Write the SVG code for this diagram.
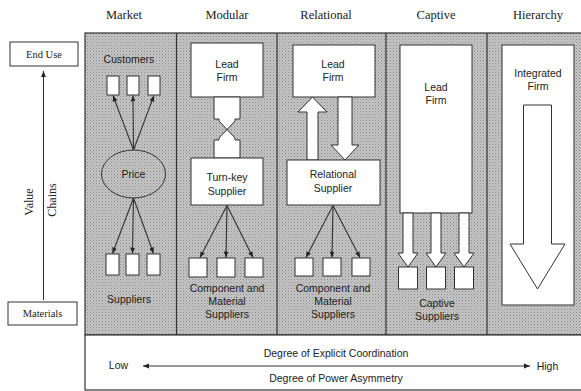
<svg xmlns="http://www.w3.org/2000/svg" width="581" height="391" viewBox="0 0 581 391">
<defs>
<style>
.serif{font-family:"Liberation Serif","Times New Roman",serif;fill:#222;text-anchor:middle}
.sans{font-family:"Liberation Sans",Arial,sans-serif;fill:#222;text-anchor:middle;font-size:10.5px}
.box{fill:#fff;stroke:#333;stroke-width:1}
.hollow{fill:#fff;stroke:#333;stroke-width:1;stroke-linejoin:miter}
.line{stroke:#333;stroke-width:1.1;fill:none}
.div{stroke:#333;stroke-width:1.2}
</style>
<marker id="ah" viewBox="0 0 10 10" refX="10" refY="5" markerWidth="6" markerHeight="6" orient="auto-start-reverse" markerUnits="userSpaceOnUse">
<path d="M0,1 L10,5 L0,9 z" fill="#222"/>
</marker>
<pattern id="dots" width="3" height="3" patternUnits="userSpaceOnUse">
<rect width="3" height="3" fill="#c6c6c6"/>
<rect width="1" height="1" fill="#888"/>
<rect x="1.5" y="1.5" width="1" height="1" fill="#9c9c9c"/>
</pattern>
</defs>
<rect width="581" height="391" fill="#fff"/>

<g id="headers" class="serif" font-size="12.5">
<text x="124" y="19">Market</text>
<text x="227" y="19">Modular</text>
<text x="326" y="19">Relational</text>
<text x="436" y="19">Captive</text>
<text x="538" y="19">Hierarchy</text>
</g>

<g id="panel">
<rect x="85" y="33" width="498" height="302" fill="url(#dots)" stroke="#333" stroke-width="1.2"/>
<line class="div" x1="176.5" y1="33" x2="176.5" y2="335"/>
<line class="div" x1="277" y1="33" x2="277" y2="335"/>
<line class="div" x1="386" y1="33" x2="386" y2="335"/>
<line class="div" x1="487" y1="33" x2="487" y2="335"/>
<rect x="85" y="335" width="498" height="55" fill="#fff" stroke="#333" stroke-width="1.2"/>
</g>

<g id="end-use">
<rect class="box" x="10" y="42" width="68" height="24"/>
<text class="serif" x="44" y="58" font-size="10.5">End Use</text>
</g>
<g id="materials">
<rect class="box" x="8" y="302" width="69" height="23"/>
<text class="serif" x="42.5" y="317" font-size="10.5">Materials</text>
</g>
<g id="value-chains-label" class="serif" font-size="12">
<text transform="translate(33,202) rotate(-90)">Value</text>
<text transform="translate(55.5,200) rotate(-90)">Chains</text>
</g>

<g id="market">
<text class="sans" x="129" y="63">Customers</text>
<rect class="box" x="107" y="76" width="12" height="19"/>
<rect class="box" x="127" y="76" width="12" height="19"/>
<rect class="box" x="148" y="76" width="12" height="19"/>
<ellipse cx="133.5" cy="174" rx="32" ry="24" fill="url(#dots)" stroke="#333" stroke-width="1"/>
<text class="sans" x="133.5" y="178" font-size="11">Price</text>
<rect class="box" x="106" y="254" width="13" height="21"/>
<rect class="box" x="126" y="254" width="13" height="21"/>
<rect class="box" x="147" y="254" width="13" height="21"/>
<text class="sans" x="129" y="303">Suppliers</text>
</g>

<g id="modular">
<rect class="box" x="191" y="43" width="72" height="54"/>
<text class="sans" x="227" y="68">Lead</text>
<text class="sans" x="227" y="81">Firm</text>
<path class="hollow" d="M214,97 V119 H219 V121 L235,138 V140 H240 V158 H214 V140 H219 V138 L235,121 V119 H240 V97 Z"/>
<rect class="box" x="191" y="158" width="72" height="47"/>
<text class="sans" x="227" y="181">Turn-key</text>
<text class="sans" x="227" y="195">Supplier</text>
<rect class="box" x="189" y="258" width="18" height="19"/>
<rect class="box" x="217" y="258" width="18" height="19"/>
<rect class="box" x="245" y="258" width="18" height="19"/>
<text class="sans" x="227" y="292">Component and</text>
<text class="sans" x="227" y="305">Material</text>
<text class="sans" x="227" y="318">Suppliers</text>
</g>

<g id="relational">
<rect class="box" x="293" y="45" width="82" height="52"/>
<text class="sans" x="333" y="68">Lead</text>
<text class="sans" x="333" y="81">Firm</text>
<polygon class="hollow" points="307,160 307,112 298,112 312.5,97 327,112 318,112 318,160"/>
<polygon class="hollow" points="338,97 352,97 352,145 359,145 345,160 331,145 338,145"/>
<rect class="box" x="287" y="160" width="93" height="45"/>
<text class="sans" x="333" y="178">Relational</text>
<text class="sans" x="333" y="192">Supplier</text>
<rect class="box" x="295" y="258" width="18" height="18"/>
<rect class="box" x="323" y="258" width="18" height="18"/>
<rect class="box" x="352" y="258" width="18" height="18"/>
<text class="sans" x="333" y="292">Component and</text>
<text class="sans" x="333" y="305">Material</text>
<text class="sans" x="333" y="318">Suppliers</text>
</g>

<g id="captive">
<rect class="box" x="400" y="45" width="72" height="168"/>
<text class="sans" x="436" y="91">Lead</text>
<text class="sans" x="436" y="104">Firm</text>
<polygon class="hollow" points="403,213 413,213 413,253 418,253 408,267 398,253 403,253"/>
<polygon class="hollow" points="431,213 441,213 441,253 446,253 436,267 426,253 431,253"/>
<polygon class="hollow" points="459,213 469,213 469,253 474,253 464,267 454,253 459,253"/>
<rect class="box" x="398.5" y="267" width="19" height="22"/>
<rect class="box" x="426.5" y="267" width="19" height="22"/>
<rect class="box" x="454.5" y="267" width="19" height="22"/>
<text class="sans" x="437" y="307">Captive</text>
<text class="sans" x="437" y="320">Suppliers</text>
</g>

<g id="hierarchy">
<rect class="box" x="502" y="45" width="72" height="260"/>
<text class="sans" x="538" y="77">Integrated</text>
<text class="sans" x="538" y="90">Firm</text>
<polygon class="hollow" points="523.5,105 551.5,105 551.5,244 565,244 537.5,289 510,244 523.5,244"/>
</g>

<g id="axis">
<text class="sans" x="118.5" y="369">Low</text>
<text class="sans" x="547.5" y="370">High</text>
<text class="sans" x="336" y="357">Degree of Explicit Coordination</text>
<text class="sans" x="336" y="382">Degree of Power Asymmetry</text>
</g>

<g id="connectors">
<line class="line" x1="43.5" y1="300" x2="43.5" y2="71" marker-end="url(#ah)"/>
<line class="line" x1="133.5" y1="150" x2="113" y2="95.5" marker-end="url(#ah)"/>
<line class="line" x1="133.5" y1="150" x2="133" y2="95.5" marker-end="url(#ah)"/>
<line class="line" x1="133.5" y1="150" x2="154" y2="95.5" marker-end="url(#ah)"/>
<line class="line" x1="133.5" y1="198" x2="112.5" y2="253.5" marker-end="url(#ah)"/>
<line class="line" x1="133.5" y1="198" x2="132.5" y2="253.5" marker-end="url(#ah)"/>
<line class="line" x1="133.5" y1="198" x2="153.5" y2="253.5" marker-end="url(#ah)"/>
<line class="line" x1="227" y1="205.5" x2="200" y2="257.5" marker-end="url(#ah)"/>
<line class="line" x1="227" y1="205.5" x2="226" y2="257.5" marker-end="url(#ah)"/>
<line class="line" x1="227" y1="205.5" x2="253" y2="257.5" marker-end="url(#ah)"/>
<line class="line" x1="333" y1="205.5" x2="306" y2="257.5" marker-end="url(#ah)"/>
<line class="line" x1="333" y1="205.5" x2="332" y2="257.5" marker-end="url(#ah)"/>
<line class="line" x1="333" y1="205.5" x2="360" y2="257.5" marker-end="url(#ah)"/>
<line class="line" x1="143" y1="366" x2="530" y2="366" marker-start="url(#ah)" marker-end="url(#ah)"/>
</g>
</svg>
